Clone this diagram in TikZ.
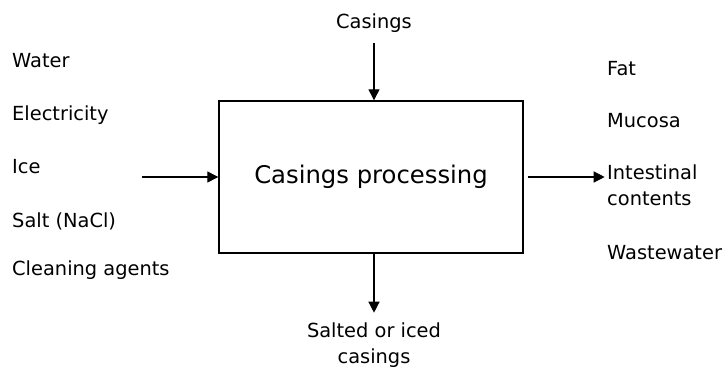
\documentclass[tikz,border=0pt]{standalone}
\usepackage{fontspec}
\setmainfont{DejaVu Sans}
\usetikzlibrary{arrows.meta,positioning,calc}

\begin{document}
\begin{tikzpicture}[%
    >={Triangle[length=11pt,width=11pt]},   % filled arrow tips
    node distance=2cm,                     % Global setup of spacing
    every node/.style={font=\fontsize{19.4pt}{26pt}\selectfont}
    ]

\tikzset{
    proc/.style={draw, line width=1.4pt, rectangle, minimum width=304pt, minimum height=152pt, font={\fontsize{24.3pt}{30pt}\selectfont}},
    lbl/.style={inner sep=0pt, anchor=base west},
    % Arrows
    fforw/.style={->, line width=1.3pt},
}

% page frame
\useasboundingbox (0,0) rectangle (728pt,-367pt);

%% Process
\node [proc] (proc) at (371pt,-177pt) {Casings processing};

%% Top input
\coordinate (ptop) at ($(proc.north)+(3pt,0)$);
\coordinate [above=57pt of ptop] (intop);
    \draw [fforw] (intop) -- (ptop);
\node [above=15pt of intop, inner sep=0pt, anchor=base] (casings) {Casings};

%% Bottom output
\coordinate (pbot) at ($(proc.south)+(3pt,0)$);
\coordinate [below=59pt of pbot] (outbot);
    \draw [fforw] (pbot) -- (outbot);
\node [below=10pt of outbot, align=center, inner sep=0pt] (salted) {Salted or iced\\casings};

%% Inputs (left)
\node [lbl] (water) at (12pt,-67pt) {Water};
\node [below=53pt of water.base west, lbl] (elec) {Electricity};
\node [below=53pt of elec.base west, lbl] (ice) {Ice};
\node [below=54pt of ice.base west, lbl] (salt) {Salt (NaCl)};
\node [below=48pt of salt.base west, lbl] (clean) {Cleaning agents};
\coordinate [left=76pt of proc.west] (inleft);
    \draw [fforw] (inleft) -- (proc.west);

%% Outputs (right)
\node [lbl] (fat) at (607pt,-75pt) {Fat};
\node [below=52pt of fat.base west, lbl] (mucosa) {Mucosa};
\node [below=38pt of mucosa.base west, anchor=north west, align=left, inner sep=0pt] (intest) {Intestinal\\contents};
\node [below=132pt of mucosa.base west, lbl] (waste) {Wastewater};
\coordinate (pright) at ($(proc.east)+(4pt,0)$);
\coordinate [right=81pt of proc.east] (outright);
    \draw [fforw] (pright) -- (outright);
\end{tikzpicture}
\end{document}
